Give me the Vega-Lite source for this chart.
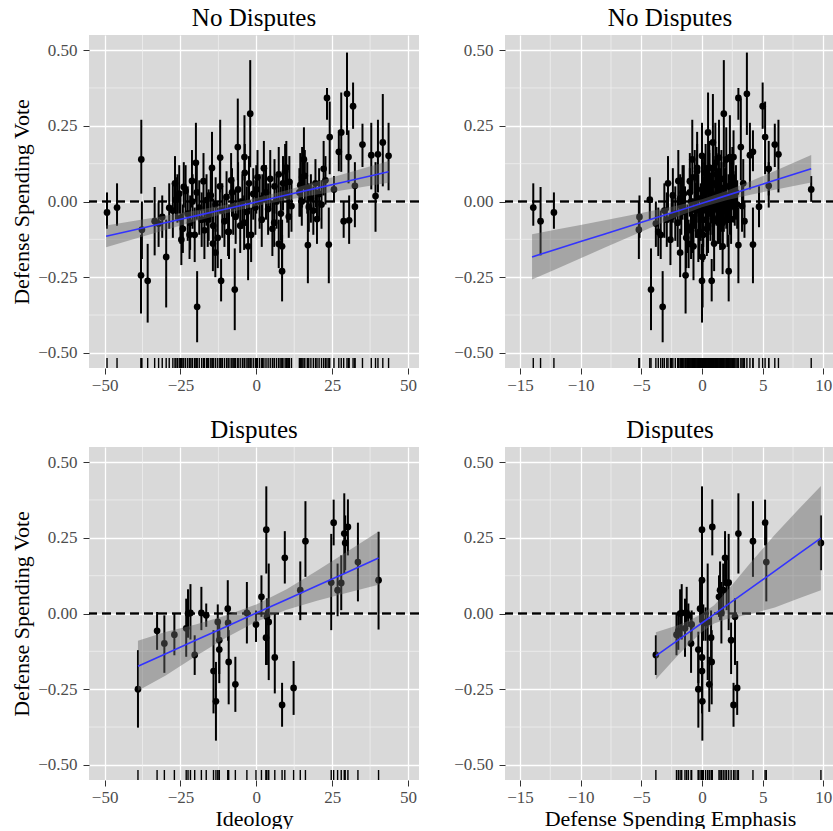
{
"$schema": "https://vega.github.io/schema/vega-lite/v6.json",
"background": "white",
"padding": {"left": 10, "top": 5, "right": 0, "bottom": 0},
"bounds": "flush",
"columns": 2,
"spacing": {"row": 79, "column": 86},
"config": {
  "font": "Liberation Serif",
  "view": {"fill": "#d9d9d9", "stroke": null},
  "title": {"font": "Liberation Serif", "fontSize": 25, "fontWeight": "normal", "color": "black", "offset": 0},
  "axis": {"domain": false, "grid": true, "gridColor": "white", "gridWidth": 1.3, "labelFont": "Liberation Serif", "labelFontSize": 17, "labelColor": "#4d4d4d", "ticks": true, "tickColor": "#333333", "tickSize": 6, "tickWidth": 1, "labelPadding": 6, "labelFlush": false, "labelOverlap": false, "titleFont": "Liberation Serif", "titleFontSize": 22, "titleFontWeight": "normal", "titleColor": "black", "titlePadding": 4},
  "axisX": {"labelPadding": 3, "titlePadding": 3},
  "axisY": {"labelPadding": 6}
},
"datasets": {
"gx_ideo": [{"ideo": -37.5}, {"ideo": -12.5}, {"ideo": 12.5}, {"ideo": 37.5}],
"gx_emph": [{"emph": -12.5}, {"emph": -7.5}, {"emph": -2.5}, {"emph": 2.5}, {"emph": 7.5}],
"gy": [{"vote": -0.375}, {"vote": -0.125}, {"vote": 0.125}, {"vote": 0.375}],
"nd": [
{"ideo":29.9,"emph":3.7,"vote":0.356,"lo":0.22,"hi":0.492},
{"ideo":23.3,"emph":3.0,"vote":0.342,"lo":0.27,"hi":0.375},
{"ideo":31.9,"emph":5.0,"vote":0.315,"lo":0.24,"hi":0.393},
{"ideo":-2.0,"emph":1.8,"vote":0.29,"lo":0.113,"hi":0.467},
{"ideo":28.0,"emph":0.5,"vote":0.228,"lo":0.098,"hi":0.36},
{"ideo":24.2,"emph":5.2,"vote":0.213,"lo":0.09,"hi":0.33},
{"ideo":41.7,"emph":0.9,"vote":0.195,"lo":0.05,"hi":0.355},
{"ideo":35.0,"emph":6.0,"vote":0.188,"lo":0.114,"hi":0.257},
{"ideo":-6.1,"emph":3.2,"vote":0.18,"lo":0.07,"hi":0.34},
{"ideo":27.2,"emph":4.2,"vote":0.164,"lo":0.1,"hi":0.235},
{"ideo":40.1,"emph":6.3,"vote":0.156,"lo":0.03,"hi":0.27},
{"ideo":37.9,"emph":3.95,"vote":0.153,"lo":0.04,"hi":0.26},
{"ideo":43.6,"emph":0.0,"vote":0.151,"lo":0.037,"hi":0.26},
{"ideo":30.4,"emph":2.6,"vote":0.147,"lo":0.06,"hi":0.235},
{"ideo":-3.9,"emph":2.3,"vote":0.147,"lo":0.07,"hi":0.285},
{"ideo":-11.9,"emph":1.4,"vote":0.145,"lo":0.03,"hi":0.27},
{"ideo":-37.9,"emph":-0.8,"vote":0.139,"lo":0.026,"hi":0.27},
{"ideo":15.7,"emph":2.0,"vote":0.139,"lo":0.04,"hi":0.245},
{"ideo":-19.9,"emph":1.1,"vote":0.128,"lo":0.0,"hi":0.26},
{"ideo":22.2,"emph":5.5,"vote":0.108,"lo":0.02,"hi":0.2},
{"ideo":9.9,"emph":0.6,"vote":0.112,"lo":0.03,"hi":0.2},
{"ideo":-14.6,"emph":-0.4,"vote":0.111,"lo":0.0,"hi":0.23},
{"ideo":15.1,"emph":2.5,"vote":0.081,"lo":-0.02,"hi":0.18},
{"ideo":-17.4,"emph":-1.0,"vote":0.067,"lo":-0.03,"hi":0.16},
{"ideo":-21.2,"emph":-1.95,"vote":0.068,"lo":-0.02,"hi":0.17},
{"ideo":32.5,"emph":5.5,"vote":0.052,"lo":-0.02,"hi":0.13},
{"ideo":14.5,"emph":1.2,"vote":0.054,"lo":-0.05,"hi":0.16},
{"ideo":-23.9,"emph":0.2,"vote":0.048,"lo":-0.02,"hi":0.13},
{"ideo":25.6,"emph":9.0,"vote":0.04,"lo":-0.001,"hi":0.084},
{"ideo":-25.4,"emph":-1.5,"vote":0.026,"lo":-0.04,"hi":0.12},
{"ideo":39.3,"emph":1.6,"vote":0.018,"lo":-0.1,"hi":0.13},
{"ideo":32.5,"emph":4.7,"vote":-0.017,"lo":-0.085,"hi":0.05},
{"ideo":-28.7,"emph":-0.5,"vote":-0.021,"lo":-0.09,"hi":0.06},
{"ideo":-26.5,"emph":-4.3,"vote":0.006,"lo":-0.06,"hi":0.08},
{"ideo":28.8,"emph":3.5,"vote":-0.065,"lo":-0.12,"hi":0.0},
{"ideo":30.6,"emph":1.3,"vote":-0.062,"lo":-0.14,"hi":0.02},
{"ideo":-49.2,"emph":-12.2,"vote":-0.036,"lo":-0.09,"hi":0.03},
{"ideo":-45.9,"emph":-13.9,"vote":-0.02,"lo":-0.08,"hi":0.06},
{"ideo":-38.0,"emph":-1.35,"vote":-0.244,"lo":-0.37,"hi":-0.11},
{"ideo":-35.8,"emph":0.0,"vote":-0.262,"lo":-0.4,"hi":-0.14},
{"ideo":-29.7,"emph":0.05,"vote":-0.183,"lo":-0.35,"hi":-0.06},
{"ideo":-24.7,"emph":-2.6,"vote":-0.126,"lo":-0.21,"hi":-0.04},
{"ideo":-19.5,"emph":-3.24,"vote":-0.348,"lo":-0.465,"hi":-0.23},
{"ideo":-13.5,"emph":-1.8,"vote":-0.169,"lo":-0.25,"hi":-0.09},
{"ideo":-14.3,"emph":1.0,"vote":-0.139,"lo":-0.23,"hi":-0.05},
{"ideo":-11.6,"emph":0.8,"vote":-0.262,"lo":-0.33,"hi":-0.19},
{"ideo":-7.1,"emph":-4.2,"vote":-0.291,"lo":-0.425,"hi":-0.155},
{"ideo":-2.7,"emph":-0.7,"vote":-0.148,"lo":-0.26,"hi":-0.04},
{"ideo":-9.3,"emph":-3.6,"vote":-0.1,"lo":-0.18,"hi":-0.02},
{"ideo":8.5,"emph":2.2,"vote":-0.23,"lo":-0.33,"hi":-0.11},
{"ideo":8.5,"emph":1.7,"vote":-0.148,"lo":-0.24,"hi":-0.06},
{"ideo":17.0,"emph":3.0,"vote":-0.144,"lo":-0.27,"hi":-0.02},
{"ideo":23.9,"emph":4.2,"vote":-0.142,"lo":-0.27,"hi":-0.02},
{"ideo":20.0,"emph":2.4,"vote":-0.058,"lo":-0.14,"hi":0.04},
{"ideo":17.3,"emph":0.3,"vote":-0.018,"lo":-0.1,"hi":0.06},
{"ideo":-37.7,"emph":-5.2,"vote":-0.093,"lo":-0.19,"hi":0.0},
{"ideo":-31.0,"emph":-5.15,"vote":-0.051,"lo":-0.12,"hi":0.02},
{"ideo":-32.2,"emph":-3.8,"vote":-0.073,"lo":-0.15,"hi":0.0},
{"ideo":10.7,"emph":-2.5,"vote":-0.05,"lo":-0.12,"hi":0.03},
{"ideo":5.9,"emph":-2.0,"vote":-0.07,"lo":-0.15,"hi":0.01},
{"ideo":7.4,"emph":-1.1,"vote":-0.14,"lo":-0.22,"hi":-0.06},
{"ideo":-33.5,"emph":-13.3,"vote":-0.065,"lo":-0.178,"hi":0.048},
{"ideo":-27.5,"emph":-3.1,"vote":-0.03,"lo":-0.12,"hi":0.06},
{"ideo":-26.0,"emph":-0.3,"vote":0.01,"lo":-0.07,"hi":0.09},
{"ideo":-25.0,"emph":0.9,"vote":-0.055,"lo":-0.14,"hi":0.03},
{"ideo":-24.2,"emph":-1.2,"vote":-0.09,"lo":-0.17,"hi":-0.01},
{"ideo":-23.3,"emph":0.4,"vote":0.035,"lo":-0.05,"hi":0.12},
{"ideo":-22.6,"emph":-2.2,"vote":-0.04,"lo":-0.13,"hi":0.05},
{"ideo":-21.8,"emph":1.5,"vote":-0.07,"lo":-0.16,"hi":0.02},
{"ideo":-21.0,"emph":-0.6,"vote":0.0,"lo":-0.09,"hi":0.09},
{"ideo":-20.3,"emph":0.1,"vote":-0.11,"lo":-0.2,"hi":-0.02},
{"ideo":-19.6,"emph":-1.6,"vote":0.03,"lo":-0.06,"hi":0.12},
{"ideo":-18.8,"emph":0.7,"vote":-0.02,"lo":-0.11,"hi":0.07},
{"ideo":-18.0,"emph":2.1,"vote":-0.06,"lo":-0.15,"hi":0.03},
{"ideo":-17.1,"emph":-0.9,"vote":-0.095,"lo":-0.19,"hi":0.0},
{"ideo":-16.4,"emph":1.2,"vote":0.005,"lo":-0.08,"hi":0.09},
{"ideo":-15.7,"emph":-0.1,"vote":-0.045,"lo":-0.13,"hi":0.04},
{"ideo":-15.0,"emph":-2.4,"vote":0.02,"lo":-0.07,"hi":0.11},
{"ideo":-14.2,"emph":0.5,"vote":-0.08,"lo":-0.17,"hi":0.01},
{"ideo":-13.4,"emph":1.8,"vote":-0.01,"lo":-0.1,"hi":0.08},
{"ideo":-12.7,"emph":-1.3,"vote":-0.12,"lo":-0.22,"hi":-0.02},
{"ideo":-12.0,"emph":0.2,"vote":0.05,"lo":-0.04,"hi":0.14},
{"ideo":-11.2,"emph":-0.5,"vote":-0.03,"lo":-0.12,"hi":0.06},
{"ideo":-10.5,"emph":1.0,"vote":-0.065,"lo":-0.15,"hi":0.02},
{"ideo":-9.8,"emph":2.6,"vote":0.015,"lo":-0.07,"hi":0.1},
{"ideo":-9.0,"emph":-0.2,"vote":-0.1,"lo":-0.19,"hi":-0.01},
{"ideo":-8.3,"emph":0.6,"vote":0.07,"lo":-0.02,"hi":0.16},
{"ideo":-7.6,"emph":-1.7,"vote":-0.015,"lo":-0.11,"hi":0.08},
{"ideo":-6.8,"emph":1.4,"vote":-0.05,"lo":-0.14,"hi":0.04},
{"ideo":-6.0,"emph":0.0,"vote":0.04,"lo":-0.05,"hi":0.13},
{"ideo":-5.3,"emph":-0.8,"vote":-0.08,"lo":-0.17,"hi":0.01},
{"ideo":-4.6,"emph":2.0,"vote":0.0,"lo":-0.09,"hi":0.09},
{"ideo":-3.8,"emph":0.3,"vote":0.095,"lo":0.0,"hi":0.19},
{"ideo":-3.1,"emph":-1.4,"vote":-0.035,"lo":-0.12,"hi":0.05},
{"ideo":-2.4,"emph":1.1,"vote":0.06,"lo":-0.03,"hi":0.15},
{"ideo":-1.7,"emph":-0.3,"vote":-0.11,"lo":-0.2,"hi":-0.02},
{"ideo":-1.0,"emph":0.8,"vote":0.025,"lo":-0.06,"hi":0.11},
{"ideo":-0.3,"emph":2.3,"vote":-0.02,"lo":-0.11,"hi":0.07},
{"ideo":0.4,"emph":-0.6,"vote":0.08,"lo":-0.01,"hi":0.17},
{"ideo":1.1,"emph":1.5,"vote":0.0,"lo":-0.09,"hi":0.09},
{"ideo":1.8,"emph":0.1,"vote":-0.06,"lo":-0.15,"hi":0.03},
{"ideo":2.5,"emph":0.9,"vote":0.11,"lo":0.02,"hi":0.2},
{"ideo":3.2,"emph":2.8,"vote":0.03,"lo":-0.06,"hi":0.12},
{"ideo":3.9,"emph":-0.1,"vote":-0.025,"lo":-0.11,"hi":0.06},
{"ideo":4.6,"emph":1.6,"vote":0.075,"lo":-0.02,"hi":0.17},
{"ideo":5.3,"emph":0.4,"vote":-0.09,"lo":-0.18,"hi":0.0},
{"ideo":6.0,"emph":2.0,"vote":0.05,"lo":-0.04,"hi":0.14},
{"ideo":6.7,"emph":-0.9,"vote":0.0,"lo":-0.09,"hi":0.09},
{"ideo":7.4,"emph":1.2,"vote":0.09,"lo":0.0,"hi":0.18},
{"ideo":8.1,"emph":0.7,"vote":-0.04,"lo":-0.13,"hi":0.05},
{"ideo":8.8,"emph":2.4,"vote":0.06,"lo":-0.03,"hi":0.15},
{"ideo":9.5,"emph":-0.4,"vote":0.1,"lo":0.01,"hi":0.19},
{"ideo":10.2,"emph":1.9,"vote":0.02,"lo":-0.07,"hi":0.11},
{"ideo":10.9,"emph":0.2,"vote":0.065,"lo":-0.02,"hi":0.15},
{"ideo":11.6,"emph":3.3,"vote":-0.015,"lo":-0.1,"hi":0.07},
{"ideo":14.2,"emph":1.3,"vote":0.03,"lo":-0.05,"hi":0.11},
{"ideo":15.0,"emph":2.7,"vote":0.0,"lo":-0.08,"hi":0.08},
{"ideo":16.0,"emph":0.6,"vote":0.085,"lo":0.0,"hi":0.17},
{"ideo":16.8,"emph":1.8,"vote":0.045,"lo":-0.04,"hi":0.13},
{"ideo":18.0,"emph":2.2,"vote":0.01,"lo":-0.07,"hi":0.09},
{"ideo":18.8,"emph":0.9,"vote":-0.03,"lo":-0.11,"hi":0.05},
{"ideo":19.5,"emph":3.4,"vote":0.06,"lo":-0.02,"hi":0.14},
{"ideo":20.7,"emph":1.5,"vote":0.025,"lo":-0.06,"hi":0.11},
{"ideo":21.5,"emph":2.9,"vote":-0.01,"lo":-0.09,"hi":0.07},
{"ideo":22.8,"emph":0.2,"vote":0.07,"lo":-0.01,"hi":0.15},
{"ideo":-26.8,"emph":-2.8,"vote":0.06,"lo":-0.03,"hi":0.15},
{"ideo":-22.0,"emph":-3.4,"vote":-0.11,"lo":-0.19,"hi":-0.03},
{"ideo":-16.0,"emph":-2.9,"vote":-0.06,"lo":-0.15,"hi":0.03},
{"ideo":-8.0,"emph":-1.0,"vote":0.03,"lo":-0.05,"hi":0.11},
{"ideo":0.0,"emph":0.5,"vote":0.04,"lo":-0.04,"hi":0.12},
{"ideo":2.0,"emph":-1.8,"vote":0.01,"lo":-0.07,"hi":0.09},
{"ideo":-4.0,"emph":1.7,"vote":-0.07,"lo":-0.16,"hi":0.02}
],
"d": [
{"ideo":-39.0,"emph":-0.3,"vote":-0.25,"lo":-0.377,"hi":-0.121},
{"ideo":-32.7,"emph":-1.95,"vote":-0.057,"lo":-0.12,"hi":0.005},
{"ideo":-30.3,"emph":-0.9,"vote":-0.099,"lo":-0.196,"hi":-0.006},
{"ideo":-27.0,"emph":-2.1,"vote":-0.07,"lo":-0.138,"hi":0.0},
{"ideo":-23.1,"emph":-1.4,"vote":-0.049,"lo":-0.143,"hi":0.049},
{"ideo":-22.5,"emph":-1.8,"vote":0.0,"lo":-0.08,"hi":0.08},
{"ideo":-21.7,"emph":-1.67,"vote":0.002,"lo":-0.086,"hi":0.097},
{"ideo":-20.3,"emph":-3.8,"vote":-0.137,"lo":-0.203,"hi":-0.072},
{"ideo":-18.1,"emph":-1.26,"vote":0.002,"lo":-0.055,"hi":0.088},
{"ideo":-16.5,"emph":-1.12,"vote":-0.006,"lo":-0.044,"hi":0.033},
{"ideo":-14.1,"emph":0.0,"vote":-0.19,"lo":-0.33,"hi":-0.055},
{"ideo":-13.3,"emph":0.03,"vote":-0.29,"lo":-0.42,"hi":-0.16},
{"ideo":-12.7,"emph":0.11,"vote":-0.028,"lo":-0.09,"hi":0.03},
{"ideo":-12.2,"emph":2.4,"vote":-0.088,"lo":-0.2,"hi":-0.03},
{"ideo":-12.2,"emph":-0.3,"vote":-0.119,"lo":-0.23,"hi":-0.06},
{"ideo":-9.4,"emph":-0.16,"vote":0.016,"lo":-0.03,"hi":0.11},
{"ideo":-9.3,"emph":0.3,"vote":-0.031,"lo":-0.09,"hi":0.02},
{"ideo":-9.1,"emph":0.8,"vote":-0.16,"lo":-0.3,"hi":-0.055},
{"ideo":-6.9,"emph":0.6,"vote":-0.234,"lo":-0.325,"hi":-0.143},
{"ideo":-3.1,"emph":1.6,"vote":0.002,"lo":-0.099,"hi":0.104},
{"ideo":-0.1,"emph":-0.85,"vote":-0.036,"lo":-0.094,"hi":0.01},
{"ideo":1.7,"emph":1.4,"vote":0.055,"lo":-0.011,"hi":0.126},
{"ideo":3.3,"emph":0.0,"vote":0.277,"lo":0.132,"hi":0.42},
{"ideo":3.2,"emph":0.75,"vote":-0.08,"lo":-0.17,"hi":0.01},
{"ideo":3.5,"emph":2.72,"vote":-0.011,"lo":-0.17,"hi":0.05},
{"ideo":4.1,"emph":0.47,"vote":-0.028,"lo":-0.22,"hi":0.165},
{"ideo":6.1,"emph":0.0,"vote":-0.145,"lo":-0.264,"hi":0.0},
{"ideo":8.5,"emph":2.6,"vote":-0.302,"lo":-0.374,"hi":-0.229},
{"ideo":9.4,"emph":1.9,"vote":0.184,"lo":0.099,"hi":0.272},
{"ideo":12.3,"emph":2.9,"vote":-0.246,"lo":-0.335,"hi":-0.157},
{"ideo":14.5,"emph":1.49,"vote":0.077,"lo":-0.022,"hi":0.172},
{"ideo":16.2,"emph":4.2,"vote":0.239,"lo":0.121,"hi":0.371},
{"ideo":24.7,"emph":2.2,"vote":0.102,"lo":-0.055,"hi":0.263},
{"ideo":25.5,"emph":5.2,"vote":0.3,"lo":0.225,"hi":0.376},
{"ideo":26.8,"emph":1.75,"vote":0.077,"lo":-0.009,"hi":0.165},
{"ideo":28.0,"emph":2.03,"vote":0.101,"lo":0.011,"hi":0.192},
{"ideo":29.0,"emph":3.0,"vote":0.264,"lo":0.132,"hi":0.397},
{"ideo":29.3,"emph":9.8,"vote":0.233,"lo":0.143,"hi":0.324},
{"ideo":30.2,"emph":0.85,"vote":0.286,"lo":0.192,"hi":0.377},
{"ideo":33.5,"emph":5.3,"vote":0.17,"lo":0.04,"hi":0.3},
{"ideo":40.3,"emph":0.0,"vote":0.11,"lo":-0.053,"hi":0.27}
],
"fit_nd_ideo": [
{"ideo":-49.5,"fit":-0.115,"flo":-0.151,"fhi":-0.079},
{"ideo":-40,"fit":-0.0933,"flo":-0.123,"fhi":-0.0636},
{"ideo":-30,"fit":-0.0704,"flo":-0.0938,"fhi":-0.047},
{"ideo":-20,"fit":-0.0475,"flo":-0.0654,"fhi":-0.0296},
{"ideo":-10,"fit":-0.0246,"flo":-0.0385,"fhi":-0.0107},
{"ideo":0,"fit":-0.0017,"flo":-0.0149,"fhi":0.0115},
{"ideo":10,"fit":0.0212,"flo":0.0052,"fhi":0.0372},
{"ideo":20,"fit":0.0441,"flo":0.023,"fhi":0.0652},
{"ideo":30,"fit":0.067,"flo":0.0399,"fhi":0.0941},
{"ideo":43.6,"fit":0.098,"flo":0.062,"fhi":0.134}
],
"fit_nd_emph": [
{"emph":-14,"fit":-0.183,"flo":-0.258,"fhi":-0.108},
{"emph":-12,"fit":-0.1577,"flo":-0.2227,"fhi":-0.0927},
{"emph":-10,"fit":-0.1324,"flo":-0.1875,"fhi":-0.0773},
{"emph":-8,"fit":-0.1071,"flo":-0.1523,"fhi":-0.0619},
{"emph":-6,"fit":-0.0818,"flo":-0.1174,"fhi":-0.0462},
{"emph":-4,"fit":-0.0565,"flo":-0.0829,"fhi":-0.0301},
{"emph":-2,"fit":-0.0312,"flo":-0.0494,"fhi":-0.013},
{"emph":0,"fit":-0.0059,"flo":-0.0191,"fhi":0.0073},
{"emph":2,"fit":0.0194,"flo":0.0043,"fhi":0.0345},
{"emph":4,"fit":0.0447,"flo":0.0226,"fhi":0.0668},
{"emph":6,"fit":0.07,"flo":0.0391,"fhi":0.1009},
{"emph":9,"fit":0.108,"flo":0.0627,"fhi":0.1533}
],
"fit_d_ideo": [
{"ideo":-39,"fit":-0.174,"flo":-0.255,"fhi":-0.09},
{"ideo":-30,"fit":-0.1335,"flo":-0.2055,"fhi":-0.0615},
{"ideo":-20,"fit":-0.0885,"flo":-0.141,"fhi":-0.036},
{"ideo":-10,"fit":-0.0435,"flo":-0.08,"fhi":-0.007},
{"ideo":0,"fit":0.0015,"flo":-0.027,"fhi":0.03},
{"ideo":10,"fit":0.0465,"flo":0.0125,"fhi":0.0805},
{"ideo":20,"fit":0.0915,"flo":0.042,"fhi":0.141},
{"ideo":30,"fit":0.1365,"flo":0.0685,"fhi":0.2045},
{"ideo":40.3,"fit":0.183,"flo":0.095,"fhi":0.271}
],
"fit_d_emph": [
{"emph":-3.8,"fit":-0.14,"flo":-0.218,"fhi":-0.062},
{"emph":-2,"fit":-0.0885,"flo":-0.1385,"fhi":-0.0385},
{"emph":-1,"fit":-0.0599,"flo":-0.098,"fhi":-0.022},
{"emph":0,"fit":-0.0313,"flo":-0.061,"fhi":-0.001},
{"emph":1,"fit":-0.0027,"flo":-0.033,"fhi":0.027},
{"emph":2,"fit":0.0259,"flo":-0.019,"fhi":0.071},
{"emph":4,"fit":0.0831,"flo":-0.002,"fhi":0.168},
{"emph":6,"fit":0.1403,"flo":0.02,"fhi":0.26},
{"emph":8,"fit":0.1975,"flo":0.05,"fhi":0.346},
{"emph":9.8,"fit":0.249,"flo":0.077,"fhi":0.421}
]
},
"concat": [
{
 "width": 330, "height": 333, "title": "No Disputes",
 "layer": [
  {"data": {"name": "gx_ideo"}, "mark": {"type": "rule", "color": "#f2f2f2", "strokeWidth": 0.7},
   "encoding": {"x": {"field": "ideo", "type": "quantitative", "scale": {"domain": [-55.14, 53.63], "nice": false, "zero": false}}}},
  {"data": {"name": "gy"}, "mark": {"type": "rule", "color": "#f2f2f2", "strokeWidth": 0.7},
   "encoding": {"y": {"field": "vote", "type": "quantitative", "scale": {"domain": [-0.55, 0.55], "nice": false, "zero": false}}}},
  {"data": {"name": "gy"}, "mark": {"type": "rule", "color": "black", "strokeWidth": 1.4, "strokeDash": [9, 5]},
   "encoding": {"y": {"datum": 0, "scale": {"domain": [-0.55, 0.55], "nice": false, "zero": false}}}},
  {"data": {"name": "nd"}, "mark": {"type": "rule", "color": "black", "strokeWidth": 2},
   "encoding": {
     "x": {"field": "ideo", "type": "quantitative", "scale": {"domain": [-55.14, 53.63], "nice": false, "zero": false}, "axis": {"title": null, "values": [-50, -25, 0, 25, 50], "format": "d"}},
     "y": {"field": "lo", "type": "quantitative", "scale": {"domain": [-0.55, 0.55], "nice": false, "zero": false}, "axis": {"title": "Defense Spending Vote", "values": [-0.5, -0.25, 0, 0.25, 0.5], "format": ".2f"}},
     "y2": {"field": "hi"}}},
  {"data": {"name": "nd"}, "mark": {"type": "circle", "size": 45, "color": "black", "opacity": 1},
   "encoding": {"x": {"field": "ideo", "type": "quantitative", "scale": {"domain": [-55.14, 53.63], "nice": false, "zero": false}},
     "y": {"field": "vote", "type": "quantitative", "scale": {"domain": [-0.55, 0.55], "nice": false, "zero": false}}}},
  {"data": {"name": "nd"}, "mark": {"type": "rule", "color": "black", "strokeWidth": 1.4},
   "encoding": {"x": {"field": "ideo", "type": "quantitative", "scale": {"domain": [-55.14, 53.63], "nice": false, "zero": false}},
     "y": {"datum": -0.55, "scale": {"domain": [-0.55, 0.55], "nice": false, "zero": false}}, "y2": {"datum": -0.517}}},
  {"data": {"name": "fit_nd_ideo"}, "mark": {"type": "area", "color": "#666666", "opacity": 0.45},
   "encoding": {"x": {"field": "ideo", "type": "quantitative", "scale": {"domain": [-55.14, 53.63], "nice": false, "zero": false}},
     "y": {"field": "flo", "type": "quantitative", "scale": {"domain": [-0.55, 0.55], "nice": false, "zero": false}}, "y2": {"field": "fhi"}}},
  {"data": {"name": "fit_nd_ideo"}, "mark": {"type": "line", "color": "#3333ff", "strokeWidth": 1.6},
   "encoding": {"x": {"field": "ideo", "type": "quantitative", "scale": {"domain": [-55.14, 53.63], "nice": false, "zero": false}},
     "y": {"field": "fit", "type": "quantitative", "scale": {"domain": [-0.55, 0.55], "nice": false, "zero": false}}}}
 ]
},
{
 "width": 330, "height": 333, "title": "No Disputes",
 "layer": [
  {"data": {"name": "gx_emph"}, "mark": {"type": "rule", "color": "#f2f2f2", "strokeWidth": 0.7},
   "encoding": {"x": {"field": "emph", "type": "quantitative", "scale": {"domain": [-16.23, 10.96], "nice": false, "zero": false}}}},
  {"data": {"name": "gy"}, "mark": {"type": "rule", "color": "#f2f2f2", "strokeWidth": 0.7},
   "encoding": {"y": {"field": "vote", "type": "quantitative", "scale": {"domain": [-0.55, 0.55], "nice": false, "zero": false}}}},
  {"data": {"name": "gy"}, "mark": {"type": "rule", "color": "black", "strokeWidth": 1.4, "strokeDash": [9, 5]},
   "encoding": {"y": {"datum": 0, "scale": {"domain": [-0.55, 0.55], "nice": false, "zero": false}}}},
  {"data": {"name": "nd"}, "mark": {"type": "rule", "color": "black", "strokeWidth": 2},
   "encoding": {
     "x": {"field": "emph", "type": "quantitative", "scale": {"domain": [-16.23, 10.96], "nice": false, "zero": false}, "axis": {"title": null, "values": [-15, -10, -5, 0, 5, 10], "format": "d"}},
     "y": {"field": "lo", "type": "quantitative", "scale": {"domain": [-0.55, 0.55], "nice": false, "zero": false}, "axis": {"title": null, "values": [-0.5, -0.25, 0, 0.25, 0.5], "format": ".2f"}},
     "y2": {"field": "hi"}}},
  {"data": {"name": "nd"}, "mark": {"type": "circle", "size": 45, "color": "black", "opacity": 1},
   "encoding": {"x": {"field": "emph", "type": "quantitative", "scale": {"domain": [-16.23, 10.96], "nice": false, "zero": false}},
     "y": {"field": "vote", "type": "quantitative", "scale": {"domain": [-0.55, 0.55], "nice": false, "zero": false}}}},
  {"data": {"name": "nd"}, "mark": {"type": "rule", "color": "black", "strokeWidth": 1.4},
   "encoding": {"x": {"field": "emph", "type": "quantitative", "scale": {"domain": [-16.23, 10.96], "nice": false, "zero": false}},
     "y": {"datum": -0.55, "scale": {"domain": [-0.55, 0.55], "nice": false, "zero": false}}, "y2": {"datum": -0.517}}},
  {"data": {"name": "fit_nd_emph"}, "mark": {"type": "area", "color": "#666666", "opacity": 0.45},
   "encoding": {"x": {"field": "emph", "type": "quantitative", "scale": {"domain": [-16.23, 10.96], "nice": false, "zero": false}},
     "y": {"field": "flo", "type": "quantitative", "scale": {"domain": [-0.55, 0.55], "nice": false, "zero": false}}, "y2": {"field": "fhi"}}},
  {"data": {"name": "fit_nd_emph"}, "mark": {"type": "line", "color": "#3333ff", "strokeWidth": 1.6},
   "encoding": {"x": {"field": "emph", "type": "quantitative", "scale": {"domain": [-16.23, 10.96], "nice": false, "zero": false}},
     "y": {"field": "fit", "type": "quantitative", "scale": {"domain": [-0.55, 0.55], "nice": false, "zero": false}}}}
 ]
},
{
 "width": 330, "height": 333, "title": "Disputes",
 "layer": [
  {"data": {"name": "gx_ideo"}, "mark": {"type": "rule", "color": "#f2f2f2", "strokeWidth": 0.7},
   "encoding": {"x": {"field": "ideo", "type": "quantitative", "scale": {"domain": [-55.14, 53.63], "nice": false, "zero": false}}}},
  {"data": {"name": "gy"}, "mark": {"type": "rule", "color": "#f2f2f2", "strokeWidth": 0.7},
   "encoding": {"y": {"field": "vote", "type": "quantitative", "scale": {"domain": [-0.55, 0.55], "nice": false, "zero": false}}}},
  {"data": {"name": "gy"}, "mark": {"type": "rule", "color": "black", "strokeWidth": 1.4, "strokeDash": [9, 5]},
   "encoding": {"y": {"datum": 0, "scale": {"domain": [-0.55, 0.55], "nice": false, "zero": false}}}},
  {"data": {"name": "d"}, "mark": {"type": "rule", "color": "black", "strokeWidth": 2},
   "encoding": {
     "x": {"field": "ideo", "type": "quantitative", "scale": {"domain": [-55.14, 53.63], "nice": false, "zero": false}, "axis": {"title": "Ideology", "values": [-50, -25, 0, 25, 50], "format": "d"}},
     "y": {"field": "lo", "type": "quantitative", "scale": {"domain": [-0.55, 0.55], "nice": false, "zero": false}, "axis": {"title": "Defense Spending Vote", "values": [-0.5, -0.25, 0, 0.25, 0.5], "format": ".2f"}},
     "y2": {"field": "hi"}}},
  {"data": {"name": "d"}, "mark": {"type": "circle", "size": 45, "color": "black", "opacity": 1},
   "encoding": {"x": {"field": "ideo", "type": "quantitative", "scale": {"domain": [-55.14, 53.63], "nice": false, "zero": false}},
     "y": {"field": "vote", "type": "quantitative", "scale": {"domain": [-0.55, 0.55], "nice": false, "zero": false}}}},
  {"data": {"name": "d"}, "mark": {"type": "rule", "color": "black", "strokeWidth": 1.4},
   "encoding": {"x": {"field": "ideo", "type": "quantitative", "scale": {"domain": [-55.14, 53.63], "nice": false, "zero": false}},
     "y": {"datum": -0.55, "scale": {"domain": [-0.55, 0.55], "nice": false, "zero": false}}, "y2": {"datum": -0.517}}},
  {"data": {"name": "fit_d_ideo"}, "mark": {"type": "area", "color": "#666666", "opacity": 0.45},
   "encoding": {"x": {"field": "ideo", "type": "quantitative", "scale": {"domain": [-55.14, 53.63], "nice": false, "zero": false}},
     "y": {"field": "flo", "type": "quantitative", "scale": {"domain": [-0.55, 0.55], "nice": false, "zero": false}}, "y2": {"field": "fhi"}}},
  {"data": {"name": "fit_d_ideo"}, "mark": {"type": "line", "color": "#3333ff", "strokeWidth": 1.6},
   "encoding": {"x": {"field": "ideo", "type": "quantitative", "scale": {"domain": [-55.14, 53.63], "nice": false, "zero": false}},
     "y": {"field": "fit", "type": "quantitative", "scale": {"domain": [-0.55, 0.55], "nice": false, "zero": false}}}}
 ]
},
{
 "width": 330, "height": 333, "title": "Disputes",
 "layer": [
  {"data": {"name": "gx_emph"}, "mark": {"type": "rule", "color": "#f2f2f2", "strokeWidth": 0.7},
   "encoding": {"x": {"field": "emph", "type": "quantitative", "scale": {"domain": [-16.23, 10.96], "nice": false, "zero": false}}}},
  {"data": {"name": "gy"}, "mark": {"type": "rule", "color": "#f2f2f2", "strokeWidth": 0.7},
   "encoding": {"y": {"field": "vote", "type": "quantitative", "scale": {"domain": [-0.55, 0.55], "nice": false, "zero": false}}}},
  {"data": {"name": "gy"}, "mark": {"type": "rule", "color": "black", "strokeWidth": 1.4, "strokeDash": [9, 5]},
   "encoding": {"y": {"datum": 0, "scale": {"domain": [-0.55, 0.55], "nice": false, "zero": false}}}},
  {"data": {"name": "d"}, "mark": {"type": "rule", "color": "black", "strokeWidth": 2},
   "encoding": {
     "x": {"field": "emph", "type": "quantitative", "scale": {"domain": [-16.23, 10.96], "nice": false, "zero": false}, "axis": {"title": "Defense Spending Emphasis", "values": [-15, -10, -5, 0, 5, 10], "format": "d"}},
     "y": {"field": "lo", "type": "quantitative", "scale": {"domain": [-0.55, 0.55], "nice": false, "zero": false}, "axis": {"title": null, "values": [-0.5, -0.25, 0, 0.25, 0.5], "format": ".2f"}},
     "y2": {"field": "hi"}}},
  {"data": {"name": "d"}, "mark": {"type": "circle", "size": 45, "color": "black", "opacity": 1},
   "encoding": {"x": {"field": "emph", "type": "quantitative", "scale": {"domain": [-16.23, 10.96], "nice": false, "zero": false}},
     "y": {"field": "vote", "type": "quantitative", "scale": {"domain": [-0.55, 0.55], "nice": false, "zero": false}}}},
  {"data": {"name": "d"}, "mark": {"type": "rule", "color": "black", "strokeWidth": 1.4},
   "encoding": {"x": {"field": "emph", "type": "quantitative", "scale": {"domain": [-16.23, 10.96], "nice": false, "zero": false}},
     "y": {"datum": -0.55, "scale": {"domain": [-0.55, 0.55], "nice": false, "zero": false}}, "y2": {"datum": -0.517}}},
  {"data": {"name": "fit_d_emph"}, "mark": {"type": "area", "color": "#666666", "opacity": 0.45},
   "encoding": {"x": {"field": "emph", "type": "quantitative", "scale": {"domain": [-16.23, 10.96], "nice": false, "zero": false}},
     "y": {"field": "flo", "type": "quantitative", "scale": {"domain": [-0.55, 0.55], "nice": false, "zero": false}}, "y2": {"field": "fhi"}}},
  {"data": {"name": "fit_d_emph"}, "mark": {"type": "line", "color": "#3333ff", "strokeWidth": 1.6},
   "encoding": {"x": {"field": "emph", "type": "quantitative", "scale": {"domain": [-16.23, 10.96], "nice": false, "zero": false}},
     "y": {"field": "fit", "type": "quantitative", "scale": {"domain": [-0.55, 0.55], "nice": false, "zero": false}}}}
 ]
}
]
}
